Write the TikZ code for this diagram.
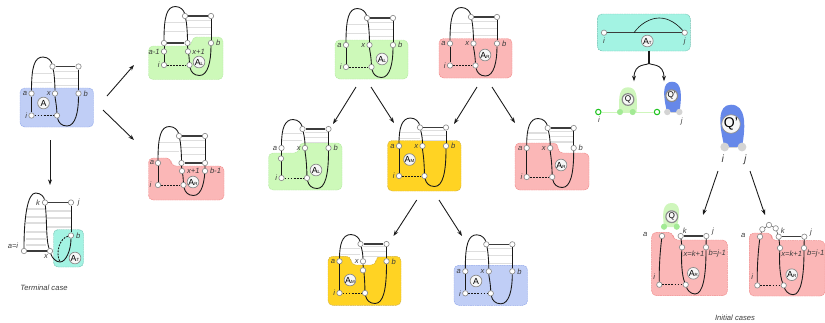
\documentclass[tikz,border=0pt]{standalone}
\usepackage{fontspec}
\setmainfont{Liberation Sans}
\usepackage{xcolor}
\usetikzlibrary{arrows.meta,positioning}
\definecolor{mainc}{HTML}{1A1A1A}
\definecolor{rungc}{HTML}{DEDEDE}
\definecolor{ringc}{HTML}{8C8C8C}
\definecolor{bluec}{HTML}{C0CEF6}
\definecolor{blueb}{HTML}{93A9EA}
\definecolor{greenc}{HTML}{CDF9B9}
\definecolor{greenb}{HTML}{B5E8A3}
\definecolor{redc}{HTML}{FBB7B7}
\definecolor{redb}{HTML}{F08A8A}
\definecolor{yelc}{HTML}{FFD323}
\definecolor{yelb}{HTML}{D1B041}
\definecolor{tealc}{HTML}{A3F3E3}
\definecolor{tealb}{HTML}{6FBFB0}
\definecolor{blobb}{HTML}{6688E9}
\definecolor{blobg}{HTML}{CFF6BC}
\definecolor{dotg}{HTML}{1FC41F}
\tikzset{
  ar/.style={-{Stealth[length=1.7mm,width=1.2mm]},line width=.75pt,mainc},
  strand/.style={line width=.75pt,mainc},
  bond/.style={line width=.9pt,mainc!85},
  rung/.style={line width=.9pt,rungc},
  weak/.style={line width=.75pt,mainc,dash pattern=on 1.6pt off 1pt},
  region/.style={rounded corners=4pt,line width=.4pt,dash pattern=on 1.5pt off .5pt},
  rgblue/.style={region,fill=bluec,draw=blueb},
  rggreen/.style={region,fill=greenc,draw=greenb},
  rgred/.style={region,fill=redc,draw=redb},
  rgyel/.style={region,fill=yelc,draw=yelb},
  rgteal/.style={region,fill=tealc,draw=tealb},
  nd/.style={circle,draw=ringc,line width=.55pt,fill=white,minimum size=4.6pt,inner sep=0pt},
  ndg/.style={nd,draw=dotg,line width=.9pt},
  ndq/.style={nd,draw=blobg!75!dotg,fill=blobg!75!dotg},
  ndc/.style={circle,draw=none,fill=black!17,minimum size=5.5pt,inner sep=0pt},
  ndbig/.style={ndc,minimum size=7.5pt},
  mot/.style={circle,draw=ringc,line width=.6pt,fill=black!3,minimum size=10pt,inner sep=0pt,font=\fontsize{7.5}{8}\selectfont},
  motq/.style={mot,line width=1pt,font=\fontsize{7}{7}\selectfont,minimum size=10pt},
  lbl/.style={inner sep=0pt,font=\fontsize{6.5}{7}\selectfont\itshape,mainc!85},
  lblbig/.style={lbl,font=\fontsize{9}{10}\selectfont\itshape}
}
\newcommand{\subA}[1]{A{\fontsize{3.8}{4}\selectfont #1}}
% name, ax, ay, height above a, depth of i
\newcommand{\rnaloop}[5]{
\begin{scope}[shift={(#2,#3)}]
\foreach \f in {.75,.42} \draw[rung] (1,-#4*\f)--(20.5,-#4*\f);
\foreach \f in {.83,.57,.3} \draw[rung] (23,-#4*\f)--(47,-#4*\f);
\node[nd] (#1a) at (0,0) {};
\node[nd] (#1x) at (23.5,0) {};
\node[nd] (#1b) at (47,0) {};
\node[nd] (#1t) at (21,-#4) {};
\node[nd] (#1r) at (47,-#4) {};
\node[nd] (#1i) at (0,#5) {};
\node[nd] (#1l) at (25.5,#5) {};
\coordinate (#1p) at (11.5,-#4-9.5);
\coordinate (#1d) at (35.5,#5+10.5);
\draw[strand] (#1a) .. controls (0,-#4) and (3,-#4-9.5) .. (#1p) .. controls (17,-#4-9.5) and (20,-#4-5) .. (#1t);
\draw[strand] (#1t) .. controls (23,-#4+8) and (23.5,-6) .. (#1x);
\draw[strand] (#1x) .. controls (23.5,5) and (25,10) .. (#1l);
\draw[strand] (#1l) .. controls (27,#5+7) and (30,#5+10.5) .. (#1d) .. controls (44,#5+10.5) and (47,#5-4) .. (#1b);
\draw[strand] (#1b)--(#1r);
\draw[bond] (#1t)--(#1r);
\draw[strand] (#1a)--(#1i);
\draw[weak] (#1i)--(#1l);
\end{scope}}
% the four usual end labels
\newcommand{\tiplabels}[1]{
\node[lbl,left=1pt of #1a] (#1at) {a};
\node[lbl,left=1pt of #1x] (#1xt) {x};
\node[lbl,right=1.5pt of #1b] (#1bt) {b};
\node[lbl,left=1pt of #1i] (#1it) {i};}
% name, ax, ay
\newcommand{\rnainit}[3]{
\begin{scope}[shift={(#2,#3)}]
\node[nd] (#1a) at (0,0) {};
\node[nd] (#1k) at (18.7,0) {};
\node[nd] (#1j) at (44.3,0) {};
\node[nd] (#1x) at (20,11.3) {};
\node[nd] (#1b) at (44,11.3) {};
\node[nd] (#1i) at (-2.7,48.7) {};
\node[nd] (#1l) at (23.7,48.7) {};
\coordinate (#1d) at (33,58);
\draw[strand] (#1a) .. controls (-2,16) and (-3,32) .. (#1i);
\draw[weak] (#1i)--(#1l);
\draw[bond] (#1k)--(#1j);
\draw[strand] (#1k)--(#1x);
\draw[strand] (#1j)--(#1b);
\draw[strand] (#1x) .. controls (19,25) and (20,40) .. (#1l);
\draw[strand] (#1l) .. controls (25,53) and (28,58) .. (#1d) .. controls (41,58) and (44,40) .. (#1b);
\end{scope}}
\newcommand{\flow}[3]{
\coordinate (#1s) at (#2);
\coordinate (#1e) at (#3);
\draw[ar] (#1s)--(#1e);}

\begin{document}
\begin{tikzpicture}[x=0.03cm,y=-0.03cm]
\useasboundingbox (0,0) rectangle (825,322);
% start
\draw[rgblue] (20,88) rectangle (93.5,127);
\rnaloop{s}{31.5}{93.5}{27}{22}
\tiplabels{s}
\node[mot] (smot) at (43.5,103) {A};
% left step
\draw[rggreen] (148.5,79.5)--(148.5,46)--(192,46)--(192,37)--(223,37)--(223,79.5)--cycle;
\rnaloop{p}{164}{43}{27}{22}
\draw[bond] (pa)--(px);
\node[nd] (pa1) at (164,51.5) {};
\node[nd] (px1) at (188,51.5) {};
\node[lbl,left=1pt of pa1] (pa1t) {a-1};
\node[lbl,right=1pt of px1] (px1t) {x+1};
\node[lbl,right=1.5pt of pb] (pbt) {b};
\node[lbl,left=1pt of pi] (pit) {i};
\node[mot] (pmot) at (199,62) {\subA{L}};
% right step
\draw[rgred] (148.5,200)--(148.5,158)--(171,158)--(171,166)--(224,166)--(224,200)--cycle;
\rnaloop{q}{158}{163}{27}{22}
\draw[bond] (qx)--(qb);
\node[nd] (qx1) at (182,171) {};
\node[nd] (qb1) at (205,171) {};
\node[lbl] (qat) at (152,162) {a};
\node[lbl,right=1.5pt of qx1] (qx1t) {x+1};
\node[lbl,right=1.5pt of qb1] (qb1t) {b-1};
\node[lbl,left=3pt of qi] (qit) {i};
\node[mot] (qmot) at (193,182) {\subA{R}};
% terminal case
\foreach \y in {209,217,223,232,239,245} \draw[rung] (26,\y)--(46,\y);
\foreach \y in {211,218,227} \draw[rung] (47,\y)--(71,\y);
\draw[rgteal] (53.5,229.5) rectangle (83.5,267);
\node[nd] (ta) at (24,251) {};
\node[nd] (tk) at (45,202.5) {};
\node[nd] (tj) at (71,202.5) {};
\node[nd] (tb) at (71,235.5) {};
\node[nd] (tx) at (50,251) {};
\coordinate (tp) at (35.5,193);
\coordinate (td) at (60,262);
\draw[strand] (ta) .. controls (24,215) and (28,193) .. (tp) .. controls (41,193) and (44,197) .. (tk);
\draw[strand] (tk) .. controls (47,220) and (46,240) .. (tx);
\draw[strand] (tx) .. controls (52,258) and (56,262) .. (td) .. controls (66,262) and (71,250) .. (tb);
\draw[strand] (tb)--(tj);
\draw[bond] (tk)--(tj);
\draw[bond] (ta)--(tx);
\draw[weak] (tb) .. controls (60,238) and (55,252) .. (td);
\node[lbl,left=1.5pt of tk] (tkt) {k};
\node[lbl,right=3pt of tj] (tjt) {j};
\node[lbl,right=1.5pt of tb] (tbt) {b};
\node[lbl] (txt) at (46,256.5) {x};
\node[lbl] (tat) at (13,246) {a=i};
\node[mot] (tmot) at (75,258) {\subA{T}};
\node[lbl] (tcase) at (44,287.5) {Terminal case};
% top row
\draw[rggreen] (335,40) rectangle (408,79);
\rnaloop{l}{346}{45}{27}{22}
\tiplabels{l}
\node[mot] (lmot) at (382,59) {\subA{L}};
\draw[rgred] (439,38.5) rectangle (512,78);
\rnaloop{r}{450}{43.5}{26.5}{22}
\tiplabels{r}
\node[mot] (rmot) at (485,55) {\subA{R}};
% middle row
\draw[rggreen] (268.5,190)--(268.5,153)--(299,153)--(299,143)--(342,143)--(342,190)--cycle;
\rnaloop{c}{281.5}{148}{19}{30}
\tiplabels{c}
\node[nd] (cy) at (281,158.5) {};
\node[mot] (cmot) at (316,170) {\subA{L}};
\draw[rgyel] (387.5,140.5) rectangle (461,191);
\rnaloop{m}{399}{146}{18.5}{30}
\tiplabels{m}
\node[mot] (mmot) at (409.5,159.5) {\subA{M}};
\draw[rgred] (515,190)--(515,143)--(558,143)--(558,153)--(589,153)--(589,190)--cycle;
\rnaloop{e}{526.7}{148}{20}{29}
\tiplabels{e}
\node[mot] (emot) at (561,165) {\subA{R}};
% bottom row
\draw[rgyel] (328,305.3)--(328,256.3)--(351,256.3)--(351,265)--(376,265)--(376,256.3)--(401,256.3)--(401,305.3)--cycle;
\rnaloop{y}{339.5}{261.3}{17.3}{31.7}
\tiplabels{y}
\node[nd] (yz) at (363,270.3) {};
\node[mot] (ymot) at (350,280) {\subA{M}};
\draw[rgblue] (454,265.3) rectangle (527.5,305.3);
\rnaloop{z}{465.3}{271.3}{27}{22}
\tiplabels{z}
\node[mot] (zmot) at (476,281) {A};
% flows
\flow{f1}{107,96}{134,65}
\flow{f2}{103,110}{134,140}
\flow{f3}{50,140}{50,185}
\flow{f4}{356,87}{333,124}
\flow{f5}{371,87}{394,123}
\flow{f6}{477,87}{454,124}
\flow{f7}{492,87}{515,123}
\flow{f8}{416.7,200}{393.5,236}
\flow{f9}{439,200}{462,236}
\flow{f10}{718,171}{703,215}
\flow{f11}{750,171}{765,215}
% split of the teal box
\draw[rgteal] (597.3,14) rectangle (690.3,51);
\node[nd] (hi) at (604,32.7) {};
\node[nd] (hj) at (684.7,32.7) {};
\coordinate (hs) at (634,32.7);
\coordinate (hp) at (659.3,18);
\draw[bond] (hi)--(hj);
\draw[strand,line width=.55pt] (hs) .. controls (640,24) and (650,18) .. (hp) .. controls (669,18) and (677,24) .. (hj);
\node[lbl,below=1.5pt of hi] (hit) {i};
\node[lbl,below=2pt of hj] (hjt) {j};
\node[mot] (hmot) at (647.3,41) {\subA{T}};
\coordinate (bs) at (649,50.5);
\coordinate (bm) at (649,63);
\coordinate (bl) at (634,81.3);
\coordinate (br) at (664,81.3);
\draw[line width=1pt,mainc] (bs)--(bm);
\draw[ar] (bm) .. controls (648,66) and (634,62) .. (bl);
\draw[ar] (bm) .. controls (650,66) and (664,62) .. (br);
% small Q
\fill[blobg] (619.5,112) .. controls (618,95) and (620,87.3) .. (628,87.3) .. controls (636,87.3) and (638,95) .. (636.5,112) --cycle;
\node[ndg] (gi) at (598.3,112) {};
\node[ndg] (gj) at (657,112) {};
\node[ndq] (gl) at (620,112) {};
\node[ndq] (gr) at (632.7,112) {};
\draw[line width=.6pt,blobg] (gi)--(gl) (gl)--(gr) (gr)--(gj);
\node[motq] (gmot) at (628,99.5) {Q};
\node[lbl] (git) at (599,120) {i};
% small Q'
\fill[blobb] (667,112) .. controls (663,95) and (662,81.7) .. (672,81.7) .. controls (682,81.7) and (682,95) .. (679.5,112) --cycle;
\node[ndc] (ui) at (667.3,112) {};
\node[ndc] (uj) at (679.3,112) {};
\draw[line width=.6pt,black!17] (ui)--(uj);
\node[motq] (umot) at (671.7,95.7) {Q'};
\node[lbl] (ujt) at (681.7,121.3) {j};
% big Q'
\fill[blobb] (724.5,147) .. controls (719,125) and (717,104.7) .. (731,104.7) .. controls (746,104.7) and (746,125) .. (742,147) --cycle;
\node[ndbig] (wi) at (724.7,147) {};
\node[ndbig] (wj) at (742,147) {};
\draw[line width=.8pt,black!17] (wi)--(wj);
\node[mot,minimum size=14.5pt,font=\fontsize{12}{12}\selectfont] (wmot) at (731,124) {Q'};
\node[lblbig] (wit) at (722.7,158.3) {i};
\node[lblbig] (wjt) at (745.3,160) {j};
% initial cases
\draw[rgred] (651.7,295.7)--(651.7,232.3)--(673,232.3)--(673,240)--(727.3,240)--(727.3,295.7)--cycle;
\fill[blobg] (664,227) .. controls (662,212) and (663,203) .. (671.7,203) .. controls (680,203) and (681,212) .. (676.7,227) --cycle;
\rnainit{n}{662}{236}
\node[ndq] (nq) at (664,226.7) {};
\node[ndq] (nr) at (676.7,226.7) {};
\draw[line width=.6pt,blobg] (nq)--(nr);
\node[motq] (nmot) at (671.7,216.7) {Q};
\node[lbl] (nat) at (645.3,234) {a};
\node[lbl] (nkt) at (684.7,230.7) {k};
\node[lbl] (njt) at (713,232) {j};
\node[lbl] (nxt) at (694,253.3) {x=k+1};
\node[lbl] (nbt) at (717.3,253.3) {b=j-1};
\node[lbl] (nit) at (654.3,276.7) {i};
\node[mot] (nmo) at (693.3,273.3) {\subA{R}};
\draw[rgred] (749.3,296)--(749.3,233)--(771.7,233)--(771.7,240.7)--(825,240.7)--(825,296)--cycle;
\rnainit{v}{760}{236.7}
\node[nd] (v1) at (762.3,229.3) {};
\node[nd] (v2) at (769,225) {};
\node[nd] (v3) at (775.7,228.3) {};
\draw[line width=.35pt,mainc] (va)--(v1) (v1)--(v2) (v2)--(v3) (v3)--(vk);
\node[lbl] (vat) at (743.3,235) {a};
\node[lbl] (vkt) at (782.7,230.7) {k};
\node[lbl] (vjt) at (811,232.7) {j};
\node[lbl] (vxt) at (791.7,254) {x=k+1};
\node[lbl] (vbt) at (815.7,254) {b=j-1};
\node[lbl] (vit) at (752.3,277) {i};
\node[mot] (vmo) at (791.7,274.7) {\subA{R}};
\node[lbl] (icase) at (735,317.7) {Initial cases};
\end{tikzpicture}
\end{document}
